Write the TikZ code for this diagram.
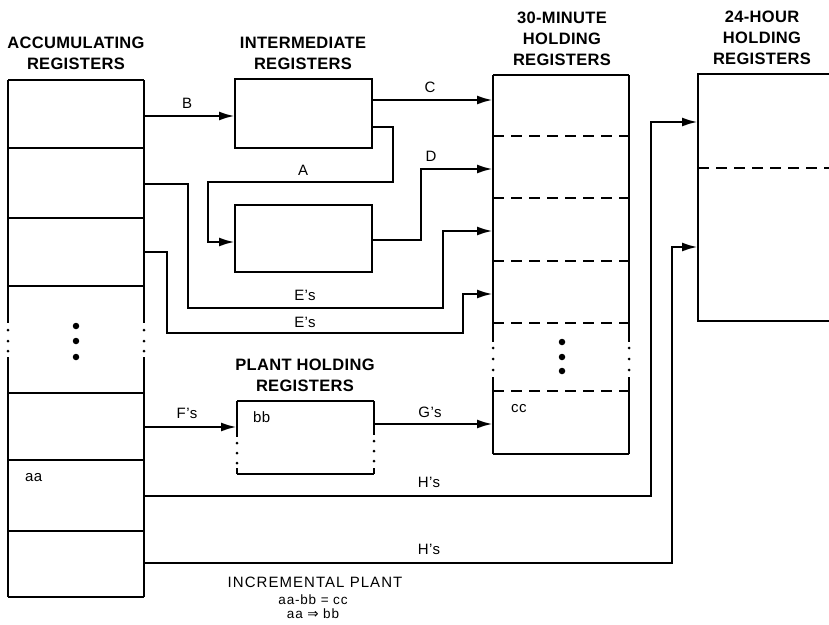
\documentclass[tikz,border=0pt]{standalone}
\usepackage{fontspec}
\setmainfont{Liberation Sans}
\newfontfamily\symfont{DejaVu Sans}
\usetikzlibrary{arrows.meta,calc}
\begin{document}
\begin{tikzpicture}[x=1pt,y=-1pt,
 box/.style={inner sep=0pt,outer sep=0pt,anchor=north west},
 frame/.style={line width=1.7pt},
 conn/.style={line width=2.6pt,-{Latex[length=16pt,width=9pt]}},
 dsh/.style={line width=1.7pt,dash pattern=on 11pt off 7pt},
 title/.style={font=\bfseries\fontsize{16.5}{21}\selectfont\addfontfeature{LetterSpace=2},align=center,inner sep=0pt},
 lab/.style={font=\fontsize{15}{17}\selectfont\addfontfeature{LetterSpace=3},inner sep=0pt},
 note/.style={font=\fontsize{15}{17}\selectfont\addfontfeature{LetterSpace=7},inner sep=0pt},
 smallnote/.style={font=\fontsize{13.5}{15}\selectfont\addfontfeature{LetterSpace=6},inner sep=0pt},
 bigdot/.style={circle,fill,inner sep=0pt,minimum size=6.5pt},
 smalldot/.style={circle,fill,inner sep=0pt,minimum size=3pt}]
\useasboundingbox (0,0) rectangle (829,624);

% ---------- boxes ----------
\node[box,minimum width=136pt,minimum height=517pt] (acc) at (8,80) {};
\node[box,draw,frame,minimum width=137pt,minimum height=69pt] (int1) at (235,79) {};
\node[box,draw,frame,minimum width=137pt,minimum height=67pt] (int2) at (235,205) {};
\node[box,minimum width=136pt,minimum height=379pt] (h30) at (493,75) {};
\node[box,minimum width=131pt,minimum height=247pt] (h24) at (698,74) {};
\node[box,minimum width=137pt,minimum height=73pt] (plant) at (237,401) {};

% accumulating registers outline
\draw[frame] (acc.north west) -- (acc.north east);
\draw[frame] (acc.south west) -- (acc.south east);
\draw[frame] (acc.north west) -- ++(0,243);
\draw[frame] (acc.south west) -- ++(0,-240);
\draw[frame] (acc.north east) -- ++(0,243);
\draw[frame] (acc.south east) -- ++(0,-240);
\foreach \d in {250,261,271}{
  \node[smalldot] at ($(acc.north west)+(0,\d)$) {};
  \node[smalldot] at ($(acc.north east)+(0,\d)$) {};
}
\foreach \d in {68,138,206,313,380,451}
  \draw[frame] ($(acc.north west)+(0,\d)$) -- ($(acc.north east)+(0,\d)$);
\foreach \d in {246,261,277}
  \node[bigdot] at ($(acc.north)+(0,\d)$) {};
\node[lab,anchor=west] (aa) at ($(acc.north west)+(17,398)$) {aa};

% 30-minute holding registers outline
\draw[frame] (h30.north west) -- (h30.north east);
\draw[frame] (h30.south west) -- (h30.south east);
\draw[frame] (h30.north west) -- ++(0,267);
\draw[frame] (h30.south west) -- ++(0,-77);
\draw[frame] (h30.north east) -- ++(0,267);
\draw[frame] (h30.south east) -- ++(0,-77);
\foreach \d in {273,284,295}{
  \node[smalldot] at ($(h30.north west)+(0,\d)$) {};
  \node[smalldot] at ($(h30.north east)+(0,\d)$) {};
}
\foreach \d in {61,123,186,248,316}
  \draw[dsh] ($(h30.north west)+(0,\d)$) -- ($(h30.north east)+(0,\d)$);
\foreach \d in {267,282,296}
  \node[bigdot] at ($(h30.north)+(1,\d)$) {};
\node[lab,anchor=west] (cc) at ($(h30.north west)+(18,334)$) {cc};

% 24-hour holding registers outline (open at right edge)
\draw[frame] (h24.north east) -- (h24.north west) -- (h24.south west) -- (h24.south east);
\draw[dsh] ($(h24.north west)+(0,94)$) -- ($(h24.north east)+(0,94)$);

% plant holding registers outline
\draw[frame] (plant.north west) -- (plant.north east);
\draw[frame] (plant.south west) -- (plant.south east);
\draw[frame] (plant.north west) -- ++(0,36);
\draw[frame] (plant.south west) -- ++(0,-6);
\draw[frame] (plant.north east) -- ++(0,34);
\draw[frame] (plant.south east) -- ++(0,-6);
\foreach \d in {42,52,62}{
  \node[smalldot] at ($(plant.north west)+(0,\d)$) {};
  \node[smalldot] at ($(plant.north east)+(0,\d-2)$) {};
}
\node[lab,anchor=west] (bb) at ($(plant.north west)+(16,16)$) {bb};

% ---------- titles ----------
\node[title] (tacc) at (76,53) {ACCUMULATING\\REGISTERS};
\node[title] (tint) at (303,53) {INTERMEDIATE\\REGISTERS};
\node[title] (t30) at (562,39) {30-MINUTE\\HOLDING\\REGISTERS};
\node[title] (t24) at (762,38) {24-HOUR\\HOLDING\\REGISTERS};
\node[title] (tpl) at (305,375) {PLANT HOLDING\\REGISTERS};

% ---------- connector start points ----------
\coordinate (sB) at ($(acc.north east)+(0,36)$);
\coordinate (sE1) at ($(acc.north east)+(0,104)$);
\coordinate (sE2) at ($(acc.north east)+(0,172)$);
\coordinate (sF) at ($(acc.north east)+(0,347)$);
\coordinate (sH1) at ($(acc.north east)+(0,416)$);
\coordinate (sH2) at ($(acc.north east)+(0,483)$);
\coordinate (sC) at ($(int1.north east)+(0,21)$);
\coordinate (sA) at ($(int1.north east)+(0,48)$);
\coordinate (sD) at ($(int2.north east)+(0,35)$);
\coordinate (sG) at ($(plant.north east)+(0,23)$);
\coordinate (eA) at ($(int2.north west)+(0,37)$);
\coordinate (eD) at ($(h30.north west)+(0,94)$);
\coordinate (eE1) at ($(h30.north west)+(0,156)$);
\coordinate (eE2) at ($(h30.north west)+(0,219)$);
\coordinate (eH1) at ($(h24.north west)+(0,48)$);
\coordinate (eH2) at ($(h24.north west)+(0,173)$);

% ---------- connectors ----------
\draw[conn] (sB) -- (sB -| int1.west);
\draw[conn] (sC) -- (sC -| h30.west);
\draw[conn] (sA) -- (393,127) -- (393,182) -- (208,182) |- (eA);
\draw[conn] (sD) -- (421,240) |- (eD);
\draw[conn] (sE1) -- (188,184) -- (188,308) -- (443,308) |- (eE1);
\draw[conn] (sE2) -- (167,252) -- (167,333) -- (463,333) |- (eE2);
\draw[conn] (sF) -- (sF -| plant.west);
\draw[conn] (sG) -- (sG -| h30.west);
\draw[conn] (sH1) -- (651,496) |- (eH1);
\draw[conn] (sH2) -- (672,563) |- (eH2);

% ---------- connector labels ----------
\node[lab] (lB) at (187,103) {B};
\node[lab] (lC) at (430,87) {C};
\node[lab] (lA) at (303,170) {A};
\node[lab] (lD) at (431,156) {D};
\node[lab] (lE1) at (305,295) {E’s};
\node[lab] (lE2) at (305,322) {E’s};
\node[lab] (lF) at (187,413) {F’s};
\node[lab] (lG) at (430,412) {G’s};
\node[lab] (lH1) at (429,482) {H’s};
\node[lab] (lH2) at (429,549) {H’s};

% ---------- bottom note ----------
\node[note] (n1) at (315,582) {INCREMENTAL PLANT};
\node[smallnote] (n2) at (313,600) {aa-bb = cc};
\node[smallnote] (n3) at (313,614) {aa {\symfont ⇒} bb};
\end{tikzpicture}
\end{document}
